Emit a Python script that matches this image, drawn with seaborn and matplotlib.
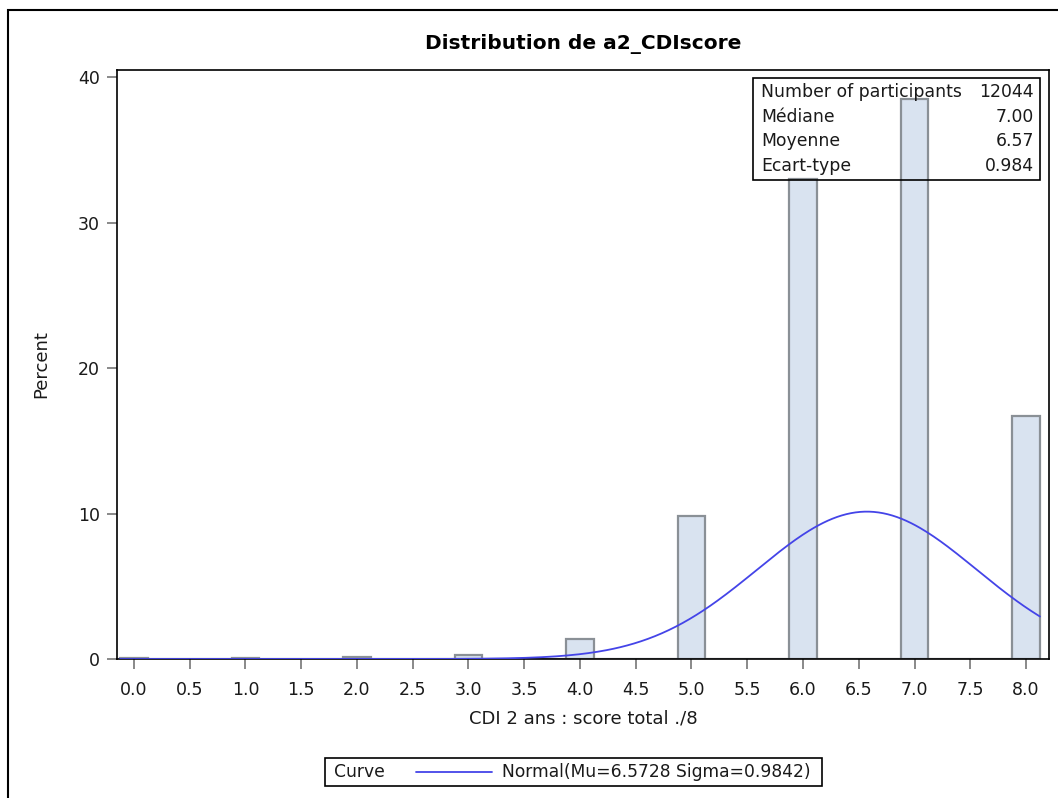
import numpy as np
import pandas as pd
import matplotlib
matplotlib.use("Agg")
import matplotlib.pyplot as plt
from matplotlib.patches import Rectangle
from matplotlib.lines import Line2D
import seaborn as sns

# CDI score distribution (percent of participants per score)
scores = [0, 1, 2, 3, 4, 5, 6, 7, 8]
percent = [0.05, 0.05, 0.15, 0.25, 1.4, 9.8, 33.0, 38.5, 16.7]
x_ticks = [0.0, 0.5, 1.0, 1.5, 2.0, 2.5, 3.0, 3.5, 4.0, 4.5, 5.0, 5.5, 6.0, 6.5, 7.0, 7.5, 8.0]
y_ticks = [0, 10, 20, 30, 40]
stat_labels = ["Number of participants", "Médiane", "Moyenne", "Ecart-type"]
stat_values = ["12044", "7.00", "6.57", "0.984"]
mu, sigma = 6.5728, 0.9842
bin_width = 0.25

sns.set_theme(style="white")
plt.rcParams["font.family"] = ["DejaVu Sans"]
TXT = "#1a1a1a"

fig = plt.figure(figsize=(10.58, 7.98), dpi=100)
ax = fig.add_axes([117 / 1058, 1 - 659 / 798, 932 / 1058, 589 / 798])

df = pd.DataFrame({"score": scores, "percent": percent})
sns.histplot(data=df, x="score", weights="percent", binwidth=bin_width,
             binrange=(-0.125, 8.125), stat="count",
             color="#D9E3F0", edgecolor="#8A9096", linewidth=1.6, alpha=1,
             ax=ax, zorder=2)

# fitted normal density, scaled to percent per bin
xs = np.linspace(-0.125, 8.125, 400)
ys = 100 * bin_width * np.exp(-0.5 * ((xs - mu) / sigma) ** 2) / (sigma * np.sqrt(2 * np.pi))
sns.lineplot(x=xs, y=ys, color="#4444E8", linewidth=1.3, ax=ax, zorder=3)

ax.set_xlim(-0.152, 8.206)
ax.set_ylim(0, 40.5)
ax.set_xticks(x_ticks)
ax.set_xticklabels([f"{v:.1f}" for v in x_ticks])
ax.set_yticks(y_ticks)
ax.tick_params(axis="both", direction="out", length=7.5, width=1.3, color="#808080",
               labelsize=12.5, labelcolor=TXT)
ax.tick_params(axis="x", bottom=True, pad=8)
ax.tick_params(axis="y", left=True, pad=5)
for s in ax.spines.values():
    s.set_color("black")
    s.set_linewidth(1.2)

ax.set_xlabel("CDI 2 ans : score total ./8", fontsize=13, color=TXT, labelpad=8)
ax.set_ylabel("Percent", fontsize=13, color=TXT, labelpad=20)
ax.set_title("Distribution de a2_CDIscore", fontsize=14.5, fontweight="bold",
             color="black", pad=15)

# summary statistics inset (outline only, bars stay visible)
bx0, by0, bx1, by1 = 753, 78, 1040, 180
fig.patches.append(Rectangle((bx0 / 1058, 1 - by1 / 798), (bx1 - bx0) / 1058,
                             (by1 - by0) / 798, transform=fig.transFigure,
                             facecolor="none", edgecolor="black", linewidth=1.2,
                             zorder=10))
row_y = [92, 117, 141, 166]
for lab, val, yy in zip(stat_labels, stat_values, row_y):
    fig.text(761 / 1058, 1 - yy / 798, lab, ha="left", va="center", fontsize=12.4,
             color=TXT, zorder=11)
    fig.text(1034 / 1058, 1 - yy / 798, val, ha="right", va="center", fontsize=12.4,
             color=TXT, zorder=11)

# legend panel
lx0, ly0, lx1, ly1 = 325, 758, 822, 786
fig.patches.append(Rectangle((lx0 / 1058, 1 - ly1 / 798), (lx1 - lx0) / 1058,
                             (ly1 - ly0) / 798, transform=fig.transFigure,
                             facecolor="white", edgecolor="black", linewidth=1.2))
ly = 1 - 772 / 798
fig.text(334 / 1058, ly, "Curve", ha="left", va="center", fontsize=12.3, color=TXT)
fig.lines.append(Line2D([416 / 1058, 492 / 1058], [ly, ly], transform=fig.transFigure,
                        color="#4444E8", linewidth=1.3))
fig.text(502 / 1058, ly, "Normal(Mu=6.5728 Sigma=0.9842)", ha="left", va="center",
         fontsize=12.3, color=TXT)

# outer frame
fig.patches.append(Rectangle((8 / 1058, -0.1), 1.2, 1.1 - 10 / 798,
                             transform=fig.transFigure, facecolor="none",
                             edgecolor="black", linewidth=1.5))

fig.savefig("out.png", dpi=100)
